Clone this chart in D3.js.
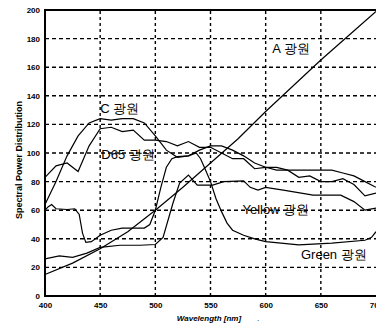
<!DOCTYPE html>
<html>
<head>
<meta charset="utf-8">
<script src="https://cdn.jsdelivr.net/npm/d3@7"></script>
<style>
  body { margin: 0; background: #fff; }
  svg { display: block; }
  text { font-family: "Liberation Sans", Arial, sans-serif; fill: #000; }
</style>
</head>
<body>
<div id="chart"></div>
<script>
"use strict"

// wavelengths [nm] and spectral power of each source
const wlA = [400, 425, 450, 475, 500, 525, 550, 575, 600, 625, 650, 675, 700];
const valA = [15, 23, 33, 45, 60, 76, 93, 110, 129, 147, 165, 182, 199];

const wlC = [400, 410, 420, 430, 440, 450, 460, 470, 480, 490, 500, 510, 520, 530, 540, 550, 560, 570, 580, 590, 600, 610, 620, 630, 640, 650, 660, 670, 680, 690, 700];
const valC = [64, 80, 98, 112, 121, 124, 123, 124, 124, 121, 112, 102, 97, 98, 102, 105, 105, 102, 98, 93, 90, 88, 88, 88, 88, 88, 88, 86, 84, 80, 76];

const wlD65 = [400, 410, 420, 430, 440, 450, 460, 470, 480, 490, 500, 510, 520, 530, 540, 550, 560, 570, 580, 590, 600, 610, 620, 630, 640, 650, 660, 670, 680, 690, 700];
const valD65 = [83, 91, 93, 87, 105, 117, 118, 115, 116, 109, 109, 108, 105, 108, 104, 104, 100, 96, 96, 89, 90, 90, 88, 83, 84, 80, 80, 82, 78, 70, 72];

const wlYellow = [400, 413, 425, 438, 450, 468, 486, 500, 507, 516, 522, 530, 538, 552, 562, 580, 586, 593, 600, 616, 643, 668, 680, 690, 700];
const valYellow = [26, 28, 27, 30, 34, 35.5, 35.5, 36, 41, 65, 79, 84.5, 77.5, 77.5, 80, 80.5, 76, 74, 76, 74, 70.5, 70.5, 66, 60, 61.5];

const wlGreen = [400, 403, 406, 410, 420, 427, 431, 434, 437, 442, 450, 460, 470, 490, 495, 500, 505, 510, 515, 520, 530, 537, 541, 545, 550, 555, 560, 565, 570, 580, 590, 600, 630, 660, 690, 696, 700];
const valGreen = [60, 62.5, 64, 61, 60.5, 61, 57, 44, 37.5, 38, 42.5, 46, 47.5, 47.5, 50, 60, 76, 90, 96, 97.5, 98, 100, 96, 89, 80, 68, 59, 51, 46, 42.5, 40, 38, 35.7, 37, 39, 41, 45];

const xTicks = [400, 450, 500, 550, 600, 650, 700];
const yTicks = [0, 20, 40, 60, 80, 100, 120, 140, 160, 180, 200];

const seriesNames = ["A 광원", "C 광원", "D65 광원", "Yellow 광원", "Green 광원"];

const width = 376, height = 325;
const svg = d3.select("#chart").append("svg")
    .attr("width", width)
    .attr("height", height);

const x = d3.scaleLinear().domain([400, 700]).range([45, 376]);
const y = d3.scaleLinear().domain([0, 200]).range([296, 10]);

// grid
svg.append("g").selectAll("line").data(yTicks.filter(d => d > 0 && d < 200))
    .enter().append("line")
        .attr("x1", x(400)).attr("x2", x(700))
        .attr("y1", d => y(d)).attr("y2", d => y(d))
        .attr("stroke", "#000").attr("stroke-width", 1.4)
        .attr("stroke-dasharray", "4,3");

svg.append("g").selectAll("line").data(xTicks.filter(d => d > 400 && d < 700))
    .enter().append("line")
        .attr("x1", d => x(d)).attr("x2", d => x(d))
        .attr("y1", y(0)).attr("y2", y(200))
        .attr("stroke", "#000").attr("stroke-width", 1.4)
        .attr("stroke-dasharray", "3,3");

// axes
const yAxis = d3.axisLeft(y).tickValues(yTicks).tickSize(0).tickPadding(5);
const gy = svg.append("g").attr("transform", `translate(${x(400)},0)`).call(yAxis);
gy.select(".domain").remove();
gy.selectAll("text").style("font-size", "8px").style("font-weight", "bold").attr("fill", "#000");

const xAxis = d3.axisBottom(x).tickValues(xTicks).tickSize(0).tickPadding(6);
const gx = svg.append("g").attr("transform", `translate(0,${y(0)})`).call(xAxis);
gx.select(".domain").remove();
gx.selectAll("text").style("font-size", "8px").style("font-weight", "bold").attr("fill", "#000");

// frame (left, bottom, top)
svg.append("line").attr("x1", x(400)).attr("x2", x(400)).attr("y1", y(0) + 1).attr("y2", y(200) - 1)
    .attr("stroke", "#000").attr("stroke-width", 2);
svg.append("line").attr("x1", x(400)).attr("x2", x(700)).attr("y1", y(0)).attr("y2", y(0))
    .attr("stroke", "#000").attr("stroke-width", 2);
svg.append("line").attr("x1", x(400)).attr("x2", x(700)).attr("y1", y(200)).attr("y2", y(200))
    .attr("stroke", "#000").attr("stroke-width", 2);

// curves
const line = d3.line().x(d => x(d[0])).y(d => y(d[1]));
const curves = [
    [wlA, valA],
    [wlC, valC],
    [wlD65, valD65],
    [wlYellow, valYellow],
    [wlGreen, valGreen]
];
curves.forEach(c => {
    svg.append("path")
        .datum(d3.zip(c[0], c[1]))
        .attr("d", line)
        .attr("fill", "none")
        .attr("stroke", "#000")
        .attr("stroke-width", 1.2);
});

// curve labels
const labelPos = [[606, 173], [450, 131], [451, 99], [579, 60.5], [632, 29]];
svg.append("g").selectAll("text").data(seriesNames)
    .enter().append("text")
        .attr("x", (d, i) => x(labelPos[i][0]))
        .attr("y", (d, i) => y(labelPos[i][1]))
        .attr("dy", "0.35em")
        .style("font-size", "13px")
        .text(d => d);

// axis titles
svg.append("text")
    .attr("transform", `translate(19,160) rotate(-90)`)
    .attr("text-anchor", "middle")
    .attr("dy", "0.35em")
    .style("font-size", "9px")
    .style("font-weight", "bold")
    .text("Spectral Power Distribution");

svg.append("text")
    .attr("x", 209).attr("y", 318)
    .attr("text-anchor", "middle")
    .attr("dy", "0.35em")
    .style("font-size", "8px")
    .style("font-weight", "bold")
    .style("font-style", "italic")
    .text("Wavelength [nm]");
svg.append("text").attr("x", 257).attr("y", 321).style("font-size", "8px").text(".");
</script>
</body>
</html>
